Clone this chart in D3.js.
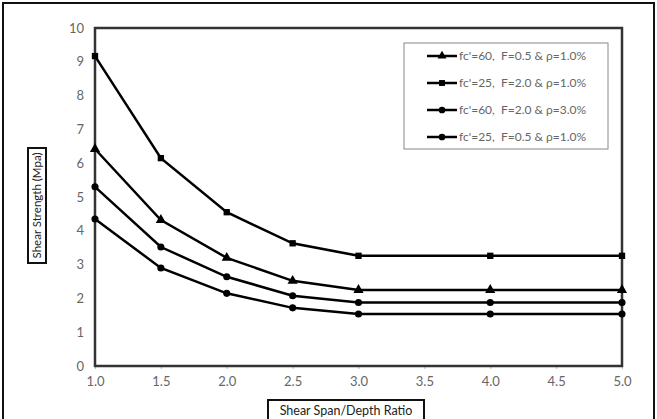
<!DOCTYPE html>
<html>
<head>
<meta charset="utf-8">
<script src="https://cdn.jsdelivr.net/npm/d3@7"></script>
<style>
  body { margin: 0; background: #fff; }
  text { font-family: Lato, "Open Sans", sans-serif; white-space: pre; }
</style>
</head>
<body>
<div id="chart"></div>
<script>
// data
var ratios = [1.0, 1.5, 2.0, 2.5, 3.0, 4.0, 5.0];
var s1 = [6.42, 4.32, 3.2, 2.52, 2.25, 2.25, 2.25];   // triangle
var s2 = [9.17, 6.15, 4.55, 3.63, 3.26, 3.26, 3.26];  // square
var s3 = [5.3, 3.52, 2.64, 2.08, 1.88, 1.88, 1.88];   // circle
var s4 = [4.35, 2.9, 2.15, 1.72, 1.54, 1.54, 1.54];   // circle
var seriesNames = [
  "fc'=60,  F=0.5 & \u03c1=1.0%",
  "fc'=25,  F=2.0 & \u03c1=1.0%",
  "fc'=60,  F=2.0 & \u03c1=3.0%",
  "fc'=25,  F=0.5 & \u03c1=1.0%"
];
var seriesVals = [s1, s2, s3, s4];
var seriesSymbols = [d3.symbolTriangle, d3.symbolSquare, d3.symbolCircle, d3.symbolCircle];
var xTicks = [1.0, 1.5, 2.0, 2.5, 3.0, 3.5, 4.0, 4.5, 5.0];
var yTicks = [0, 1, 2, 3, 4, 5, 6, 7, 8, 9, 10];

var W = 657, H = 419;
var margin = {top: 28, right: 35, bottom: 53, left: 95},
    width = W - margin.left - margin.right,
    height = H - margin.top - margin.bottom;

var root = d3.select("#chart")
  .append("svg")
    .attr("width", W)
    .attr("height", H);

// outer frame
root.append("rect")
  .attr("x", 3).attr("y", 3)
  .attr("width", 651).attr("height", 420)
  .attr("fill", "none")
  .attr("stroke", "#111")
  .attr("stroke-width", 2);

var svg = root.append("g")
  .attr("transform", "translate(" + margin.left + "," + margin.top + ")");

var x = d3.scaleLinear().domain([1, 5]).range([0, width]);
var y = d3.scaleLinear().domain([0, 10]).range([height, 0]);

// axes (labels only, the plot frame is drawn below)
var xAxis = svg.append("g")
  .attr("transform", "translate(0," + height + ")")
  .call(d3.axisBottom(x).tickValues(xTicks).tickFormat(d3.format(".1f")).tickSize(3).tickPadding(8));
var yAxis = svg.append("g")
  .call(d3.axisLeft(y).tickValues(yTicks).tickFormat(d3.format("d")).tickSize(0).tickPadding(11));
[xAxis, yAxis].forEach(function(a) {
  a.select(".domain").remove();
  a.selectAll("line").attr("stroke", "#bbb");
  a.selectAll("text").attr("fill", "#666").style("font-size", "13px");
});

// plot frame
svg.append("rect")
  .attr("width", width).attr("height", height)
  .attr("fill", "none")
  .attr("stroke", "#333")
  .attr("stroke-width", 2.5);

var line = d3.line()
  .x(function(d, i) { return x(ratios[i]); })
  .y(function(d) { return y(d); });

seriesVals.forEach(function(vals, k) {
  svg.append("path")
    .datum(vals)
    .attr("d", line)
    .attr("fill", "none")
    .attr("stroke", "#000")
    .attr("stroke-width", 2.5);
  svg.selectAll(".m" + k)
    .data(vals)
    .enter()
    .append("path")
      .attr("transform", function(d, i) { return "translate(" + x(ratios[i]) + "," + y(d) + ")"; })
      .attr("d", d3.symbol().type(seriesSymbols[k]).size(k == 0 ? 45 : 40))
      .attr("fill", "#000");
});

// legend
var lg = root.append("g").attr("transform", "translate(404,43)");
lg.append("rect")
  .attr("width", 204).attr("height", 106)
  .attr("fill", "#fff")
  .attr("stroke", "#888")
  .attr("stroke-width", 1);
seriesNames.forEach(function(name, k) {
  var yy = 13 + k * 27;
  lg.append("line")
    .attr("x1", 23).attr("x2", 53)
    .attr("y1", yy).attr("y2", yy)
    .attr("stroke", "#000").attr("stroke-width", 2.5);
  lg.append("path")
    .attr("transform", "translate(38," + yy + ")")
    .attr("d", d3.symbol().type(seriesSymbols[k]).size(35))
    .attr("fill", "#000");
  lg.append("text")
    .attr("x", 55).attr("y", yy)
    .attr("dy", "0.35em")
    .attr("fill", "#666")
    .style("font-size", "12px")
    .text(name);
});

// axis titles in boxes
root.append("rect")
  .attr("x", 268).attr("y", 400).attr("width", 156).attr("height", 24)
  .attr("fill", "#fff").attr("stroke", "#111").attr("stroke-width", 2);
root.append("text")
  .attr("x", 346).attr("y", 411)
  .attr("dy", "0.35em")
  .attr("text-anchor", "middle")
  .attr("fill", "#222")
  .style("font-size", "12.5px")
  .text("Shear Span/Depth Ratio");

root.append("rect")
  .attr("x", 28).attr("y", 148).attr("width", 18).attr("height", 115)
  .attr("fill", "#fff").attr("stroke", "#111").attr("stroke-width", 2);
root.append("text")
  .attr("transform", "translate(37,205.5) rotate(-90)")
  .attr("dy", "0.35em")
  .attr("text-anchor", "middle")
  .attr("fill", "#222")
  .style("font-size", "11.5px")
  .text("Shear Strength (Mpa)");
</script>
</body>
</html>
